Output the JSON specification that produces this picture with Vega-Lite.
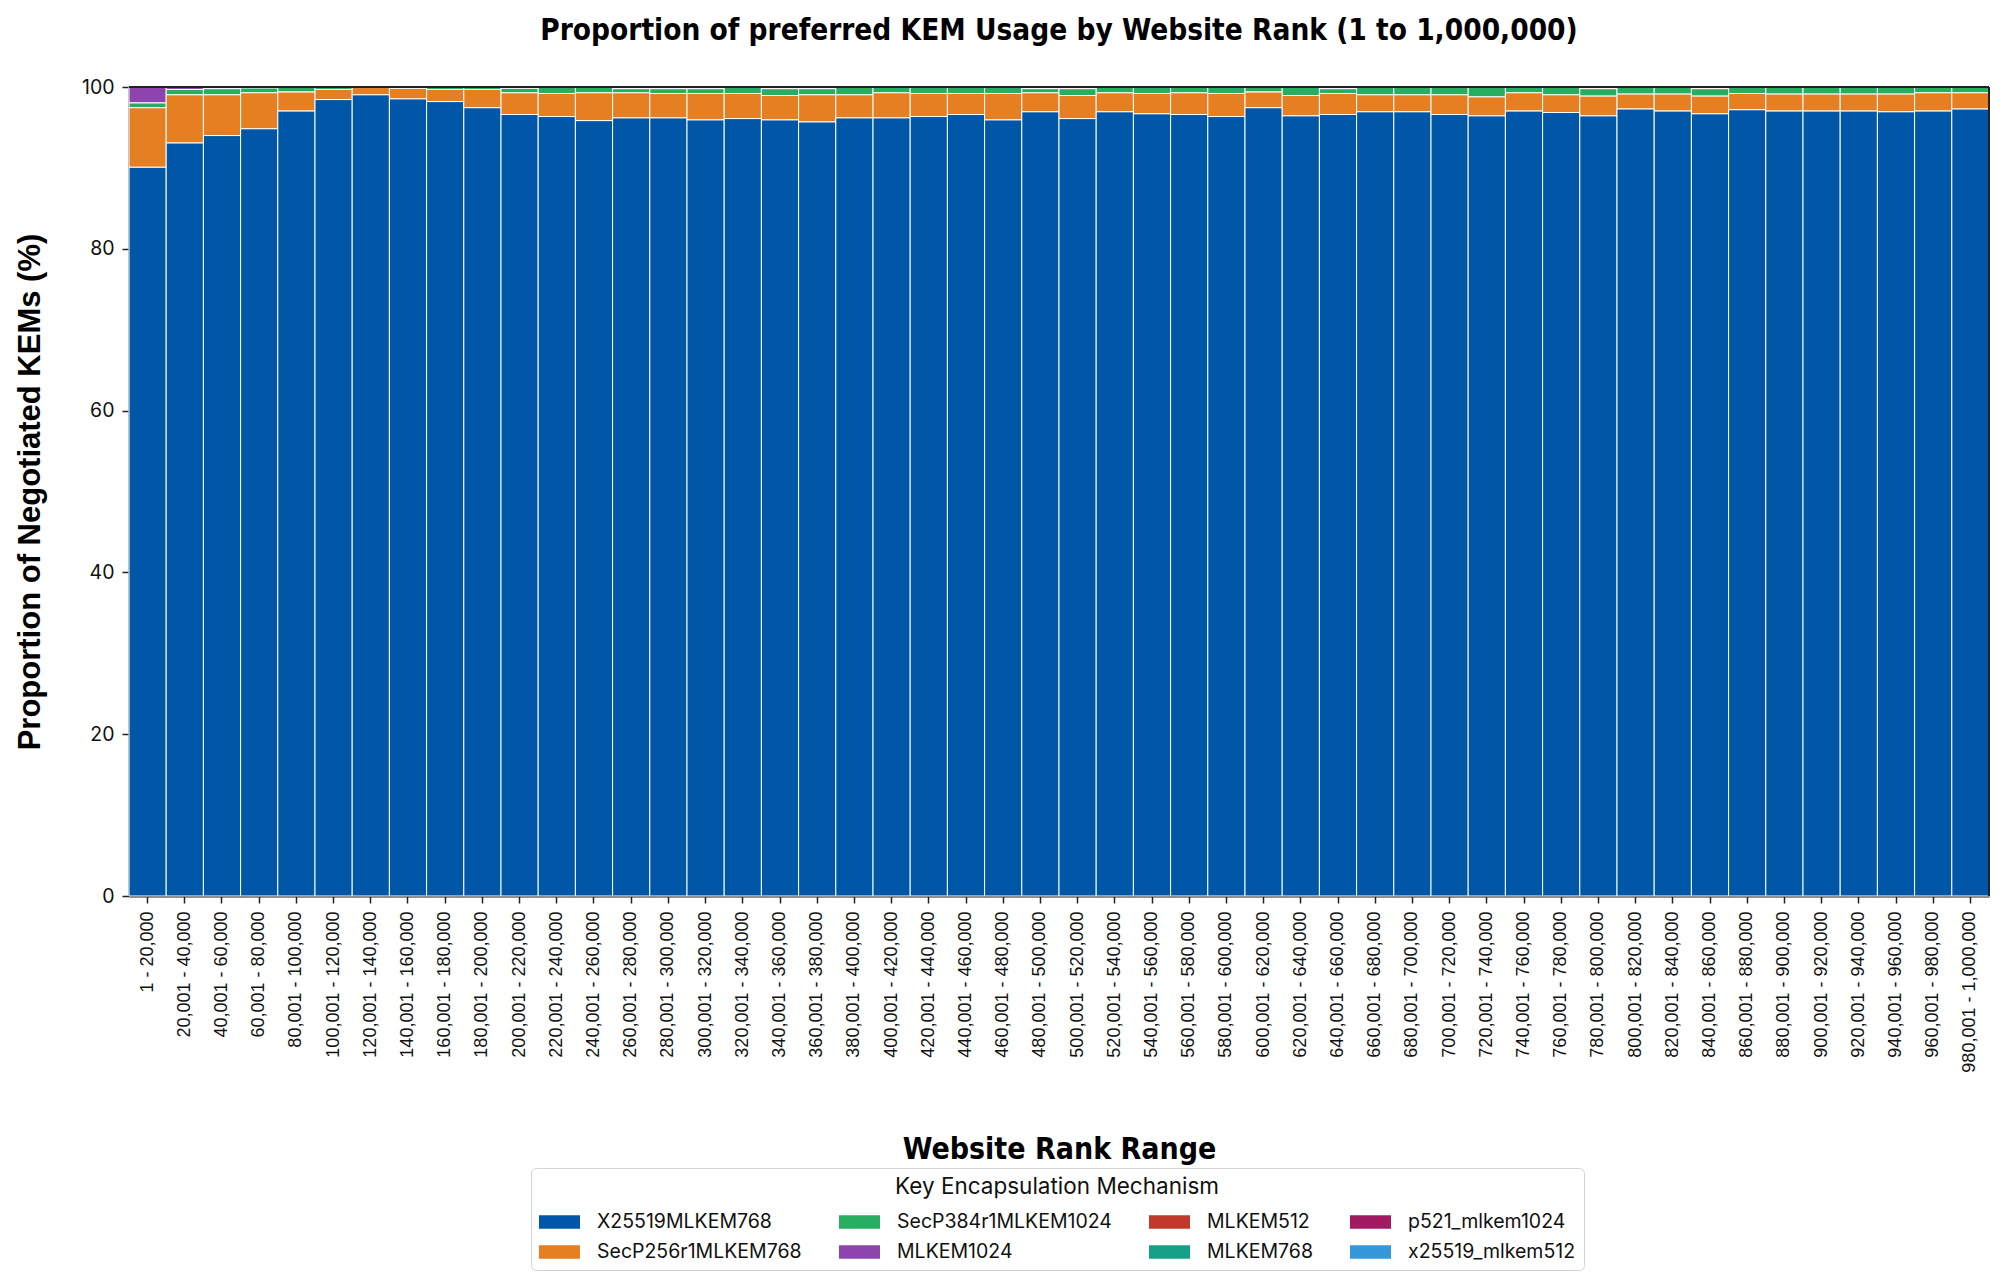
{
  "$schema": "https://vega.github.io/schema/vega-lite/v6.json",
  "width": 1860,
  "height": 809,
  "autosize": {"type": "none"},
  "padding": {"left": 129, "top": 87, "right": 15, "bottom": 388},
  "background": "white",
  "title": {
    "text": "Proportion of preferred KEM Usage by Website Rank (1 to 1,000,000)",
    "font": "Liberation Sans Narrow, DejaVu Sans Condensed, sans-serif",
    "fontSize": 29.5,
    "fontWeight": "bold",
    "color": "black",
    "anchor": "middle",
    "baseline": "alphabetic",
    "offset": 8
  },
  "data": {
    "values": [
      {"rank": "1 - 20,000", "X25519MLKEM768": 90.1, "SecP256r1MLKEM768": 7.35, "SecP384r1MLKEM1024": 0.6, "MLKEM1024": 1.95},
      {"rank": "20,001 - 40,000", "X25519MLKEM768": 93.1, "SecP256r1MLKEM768": 5.95, "SecP384r1MLKEM1024": 0.65, "MLKEM1024": 0.3},
      {"rank": "40,001 - 60,000", "X25519MLKEM768": 94.0, "SecP256r1MLKEM768": 5.05, "SecP384r1MLKEM1024": 0.75, "MLKEM1024": 0.2},
      {"rank": "60,001 - 80,000", "X25519MLKEM768": 94.85, "SecP256r1MLKEM768": 4.45, "SecP384r1MLKEM1024": 0.6, "MLKEM1024": 0.1},
      {"rank": "80,001 - 100,000", "X25519MLKEM768": 97.05, "SecP256r1MLKEM768": 2.35, "SecP384r1MLKEM1024": 0.6},
      {"rank": "100,001 - 120,000", "X25519MLKEM768": 98.45, "SecP256r1MLKEM768": 1.25, "SecP384r1MLKEM1024": 0.3},
      {"rank": "120,001 - 140,000", "X25519MLKEM768": 99.05, "SecP256r1MLKEM768": 0.9, "SecP384r1MLKEM1024": 0.05},
      {"rank": "140,001 - 160,000", "X25519MLKEM768": 98.55, "SecP256r1MLKEM768": 1.3, "SecP384r1MLKEM1024": 0.15},
      {"rank": "160,001 - 180,000", "X25519MLKEM768": 98.2, "SecP256r1MLKEM768": 1.5, "SecP384r1MLKEM1024": 0.3},
      {"rank": "180,001 - 200,000", "X25519MLKEM768": 97.45, "SecP256r1MLKEM768": 2.25, "SecP384r1MLKEM1024": 0.3},
      {"rank": "200,001 - 220,000", "X25519MLKEM768": 96.6, "SecP256r1MLKEM768": 2.7, "SecP384r1MLKEM1024": 0.55, "MLKEM1024": 0.15},
      {"rank": "220,001 - 240,000", "X25519MLKEM768": 96.35, "SecP256r1MLKEM768": 2.85, "SecP384r1MLKEM1024": 0.8},
      {"rank": "240,001 - 260,000", "X25519MLKEM768": 95.85, "SecP256r1MLKEM768": 3.45, "SecP384r1MLKEM1024": 0.7},
      {"rank": "260,001 - 280,000", "X25519MLKEM768": 96.2, "SecP256r1MLKEM768": 3.1, "SecP384r1MLKEM1024": 0.5, "MLKEM1024": 0.2},
      {"rank": "280,001 - 300,000", "X25519MLKEM768": 96.2, "SecP256r1MLKEM768": 3.0, "SecP384r1MLKEM1024": 0.6, "MLKEM1024": 0.2},
      {"rank": "300,001 - 320,000", "X25519MLKEM768": 95.95, "SecP256r1MLKEM768": 3.25, "SecP384r1MLKEM1024": 0.6, "MLKEM1024": 0.2},
      {"rank": "320,001 - 340,000", "X25519MLKEM768": 96.1, "SecP256r1MLKEM768": 3.1, "SecP384r1MLKEM1024": 0.8},
      {"rank": "340,001 - 360,000", "X25519MLKEM768": 95.95, "SecP256r1MLKEM768": 3.0, "SecP384r1MLKEM1024": 0.85, "MLKEM1024": 0.2},
      {"rank": "360,001 - 380,000", "X25519MLKEM768": 95.7, "SecP256r1MLKEM768": 3.35, "SecP384r1MLKEM1024": 0.75, "MLKEM1024": 0.2},
      {"rank": "380,001 - 400,000", "X25519MLKEM768": 96.2, "SecP256r1MLKEM768": 2.85, "SecP384r1MLKEM1024": 0.95},
      {"rank": "400,001 - 420,000", "X25519MLKEM768": 96.2, "SecP256r1MLKEM768": 3.1, "SecP384r1MLKEM1024": 0.7},
      {"rank": "420,001 - 440,000", "X25519MLKEM768": 96.35, "SecP256r1MLKEM768": 2.85, "SecP384r1MLKEM1024": 0.8},
      {"rank": "440,001 - 460,000", "X25519MLKEM768": 96.6, "SecP256r1MLKEM768": 2.6, "SecP384r1MLKEM1024": 0.8},
      {"rank": "460,001 - 480,000", "X25519MLKEM768": 95.95, "SecP256r1MLKEM768": 3.25, "SecP384r1MLKEM1024": 0.8},
      {"rank": "480,001 - 500,000", "X25519MLKEM768": 96.95, "SecP256r1MLKEM768": 2.35, "SecP384r1MLKEM1024": 0.5, "MLKEM1024": 0.2},
      {"rank": "500,001 - 520,000", "X25519MLKEM768": 96.1, "SecP256r1MLKEM768": 2.85, "SecP384r1MLKEM1024": 0.85, "MLKEM1024": 0.2},
      {"rank": "520,001 - 540,000", "X25519MLKEM768": 96.95, "SecP256r1MLKEM768": 2.35, "SecP384r1MLKEM1024": 0.7},
      {"rank": "540,001 - 560,000", "X25519MLKEM768": 96.7, "SecP256r1MLKEM768": 2.5, "SecP384r1MLKEM1024": 0.8},
      {"rank": "560,001 - 580,000", "X25519MLKEM768": 96.6, "SecP256r1MLKEM768": 2.7, "SecP384r1MLKEM1024": 0.7},
      {"rank": "580,001 - 600,000", "X25519MLKEM768": 96.35, "SecP256r1MLKEM768": 2.85, "SecP384r1MLKEM1024": 0.8},
      {"rank": "600,001 - 620,000", "X25519MLKEM768": 97.45, "SecP256r1MLKEM768": 1.95, "SecP384r1MLKEM1024": 0.6},
      {"rank": "620,001 - 640,000", "X25519MLKEM768": 96.45, "SecP256r1MLKEM768": 2.5, "SecP384r1MLKEM1024": 1.05},
      {"rank": "640,001 - 660,000", "X25519MLKEM768": 96.6, "SecP256r1MLKEM768": 2.6, "SecP384r1MLKEM1024": 0.6, "MLKEM1024": 0.2},
      {"rank": "660,001 - 680,000", "X25519MLKEM768": 96.95, "SecP256r1MLKEM768": 2.1, "SecP384r1MLKEM1024": 0.95},
      {"rank": "680,001 - 700,000", "X25519MLKEM768": 96.95, "SecP256r1MLKEM768": 2.1, "SecP384r1MLKEM1024": 0.95},
      {"rank": "700,001 - 720,000", "X25519MLKEM768": 96.6, "SecP256r1MLKEM768": 2.45, "SecP384r1MLKEM1024": 0.95},
      {"rank": "720,001 - 740,000", "X25519MLKEM768": 96.45, "SecP256r1MLKEM768": 2.35, "SecP384r1MLKEM1024": 1.2},
      {"rank": "740,001 - 760,000", "X25519MLKEM768": 97.05, "SecP256r1MLKEM768": 2.25, "SecP384r1MLKEM1024": 0.7},
      {"rank": "760,001 - 780,000", "X25519MLKEM768": 96.85, "SecP256r1MLKEM768": 2.2, "SecP384r1MLKEM1024": 0.95},
      {"rank": "780,001 - 800,000", "X25519MLKEM768": 96.45, "SecP256r1MLKEM768": 2.45, "SecP384r1MLKEM1024": 0.9, "MLKEM1024": 0.2},
      {"rank": "800,001 - 820,000", "X25519MLKEM768": 97.3, "SecP256r1MLKEM768": 1.85, "SecP384r1MLKEM1024": 0.85},
      {"rank": "820,001 - 840,000", "X25519MLKEM768": 97.05, "SecP256r1MLKEM768": 2.1, "SecP384r1MLKEM1024": 0.85},
      {"rank": "840,001 - 860,000", "X25519MLKEM768": 96.7, "SecP256r1MLKEM768": 2.2, "SecP384r1MLKEM1024": 0.9, "MLKEM1024": 0.2},
      {"rank": "860,001 - 880,000", "X25519MLKEM768": 97.2, "SecP256r1MLKEM768": 2.0, "SecP384r1MLKEM1024": 0.8},
      {"rank": "880,001 - 900,000", "X25519MLKEM768": 97.05, "SecP256r1MLKEM768": 2.1, "SecP384r1MLKEM1024": 0.85},
      {"rank": "900,001 - 920,000", "X25519MLKEM768": 97.05, "SecP256r1MLKEM768": 2.1, "SecP384r1MLKEM1024": 0.85},
      {"rank": "920,001 - 940,000", "X25519MLKEM768": 97.05, "SecP256r1MLKEM768": 2.1, "SecP384r1MLKEM1024": 0.85},
      {"rank": "940,001 - 960,000", "X25519MLKEM768": 96.95, "SecP256r1MLKEM768": 2.2, "SecP384r1MLKEM1024": 0.85},
      {"rank": "960,001 - 980,000", "X25519MLKEM768": 97.05, "SecP256r1MLKEM768": 2.25, "SecP384r1MLKEM1024": 0.7},
      {"rank": "980,001 - 1,000,000", "X25519MLKEM768": 97.3, "SecP256r1MLKEM768": 2.0, "SecP384r1MLKEM1024": 0.7}
    ]
  },
  "layer": [
    {
      "transform": [
        {"fold": ["X25519MLKEM768", "SecP256r1MLKEM768", "SecP384r1MLKEM1024", "MLKEM1024"], "as": ["kem", "pct"]},
        {"filter": "isValid(datum.pct)"},
        {"calculate": "indexof(['X25519MLKEM768', 'SecP256r1MLKEM768', 'SecP384r1MLKEM1024', 'MLKEM1024', 'MLKEM512', 'MLKEM768', 'p521_mlkem1024', 'x25519_mlkem512'], datum.kem)", "as": "stack_rank"}
      ],
      "mark": {"type": "bar", "stroke": "white", "strokeWidth": 1},
      "encoding": {
        "x": {
          "field": "rank",
          "type": "nominal",
          "sort": null,
          "scale": {"paddingInner": 0, "paddingOuter": 0},
          "axis": {
            "title": "Website Rank Range",
            "titleFont": "Liberation Sans Narrow, DejaVu Sans Condensed, sans-serif",
            "titleFontSize": 30,
            "titleFontWeight": "bold",
            "titleColor": "black",
            "titlePadding": 62,
            "labelAngle": -90,
            "labelFont": "Liberation Sans",
            "labelFontSize": 18,
            "labelColor": "#111",
            "labelPadding": 8,
            "tickSize": 7,
            "tickWidth": 1.5,
            "tickColor": "#222",
            "domain": true,
            "domainColor": "#222",
            "domainWidth": 2,
            "labelLimit": 300
          }
        },
        "y": {
          "field": "pct",
          "type": "quantitative",
          "stack": "zero",
          "scale": {"domain": [0, 100], "nice": false},
          "axis": {
            "title": "Proportion of Negotiated KEMs (%)",
            "titleFont": "Liberation Sans",
            "titleFontSize": 31,
            "titleFontWeight": "bold",
            "titleColor": "black",
            "titlePadding": 35,
            "values": [0, 20, 40, 60, 80, 100],
            "labelFont": "Inter",
            "labelFontSize": 19.5,
            "labelColor": "#111",
            "labelPadding": 8,
            "tickSize": 7,
            "tickWidth": 1.5,
            "tickColor": "#222",
            "grid": false,
            "domain": true,
            "domainColor": "#222",
            "domainWidth": 2
          }
        },
        "color": {
          "field": "kem",
          "type": "nominal",
          "scale": {
            "domain": ["X25519MLKEM768", "SecP384r1MLKEM1024", "MLKEM512", "p521_mlkem1024", "SecP256r1MLKEM768", "MLKEM1024", "MLKEM768", "x25519_mlkem512"],
            "range": ["#0057a7", "#27ae60", "#c0392b", "#a21a62", "#e67e22", "#8e44ad", "#16a085", "#3498db"]
          },
          "legend": {
            "title": "Key Encapsulation Mechanism",
            "orient": "none",
            "legendX": 402,
            "legendY": 1081,
            "direction": "horizontal",
            "columns": 4,
            "padding": 8,
            "strokeColor": "#d0d5d9",
            "fillColor": "white",
            "cornerRadius": 5,
            "titleAnchor": "middle",
            "titleFont": "Inter",
            "titleFontSize": 22.5,
            "titleFontWeight": "normal",
            "titleColor": "#111",
            "titlePadding": 3,
            "titleLimit": 800,
            "labelFont": "Inter",
            "labelFontSize": 19.5,
            "labelColor": "#111",
            "labelLimit": 400,
            "labelOffset": 17,
            "columnPadding": 37,
            "rowPadding": 0,
            "symbolType": "M-1,-0.33H1V0.33H-1Z",
            "symbolSize": 1681,
            "symbolStrokeWidth": 0,
            "symbolOpacity": 1
          }
        },
        "order": {"field": "stack_rank", "type": "quantitative", "sort": "ascending"}
      }
    },
    {
      "data": {"values": [{}]},
      "mark": {"type": "rule", "color": "#222", "strokeWidth": 2},
      "encoding": {"y": {"datum": 100}}
    },
    {
      "data": {"values": [{}]},
      "mark": {"type": "rule", "color": "#222", "strokeWidth": 2},
      "encoding": {"x": {"datum": "980,001 - 1,000,000", "bandPosition": 1}}
    }
  ],
  "config": {
    "view": {"stroke": null}
  }
}
